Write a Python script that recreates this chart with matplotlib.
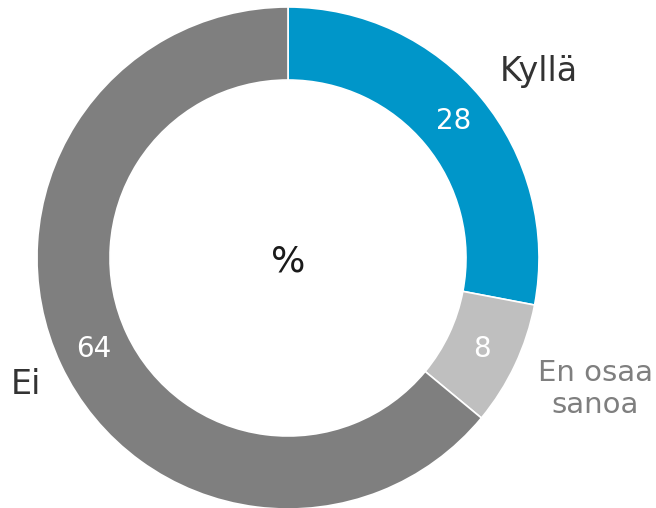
import matplotlib.pyplot as plt

# data
labels = ["Kyllä", "En osaa\nsanoa", "Ei"]
values = [28, 8, 64]
colors = ["#0096C9", "#BFBFBF", "#7F7F7F"]
label_colors = ["#333333", "#7F7F7F", "#333333"]

plt.rcParams['font.family'] = ['DejaVu Sans']

fig = plt.figure(figsize=(6.56, 5.08), dpi=100)
ax = fig.add_axes([0, 0, 1, 1])

cx, cy = 288, 250
R = 251
width = 73

wedges, texts, autotexts = ax.pie(
    values, colors=colors, startangle=90, counterclock=False,
    center=(cx, cy), radius=R, frame=True,
    autopct=lambda p: f"{p:.0f}", pctdistance=1 - width / 2 / R,
    wedgeprops=dict(width=width, edgecolor="white", linewidth=1.2),
    textprops=dict(color="white", fontsize=20),
)
ax.set_xlim(0, 656)
ax.set_ylim(0, 508)
ax.set_aspect('equal')
ax.axis('off')

# center text
ax.text(cx, 246, "%", ha="center", va="center", fontsize=26, color="#1a1a1a")

# outer category labels
pos = [(539, 436), (595, 119), (26, 123)]
sizes = [24, 21, 24]
for lab, (x, y), c, s in zip(labels, pos, label_colors, sizes):
    ax.text(x, y, lab, ha="center", va="center", fontsize=s, color=c,
            linespacing=1.22)

fig.savefig("out.png", dpi=100)
